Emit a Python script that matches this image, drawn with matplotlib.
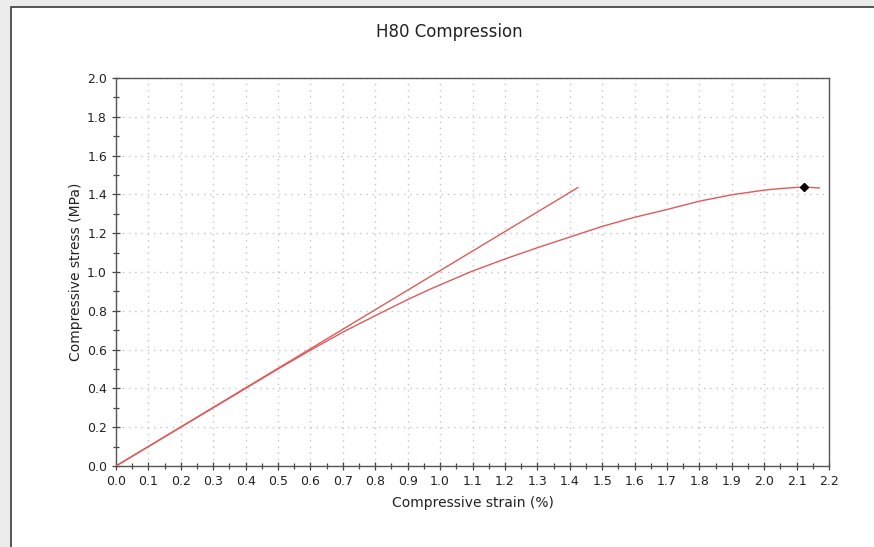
import numpy as np
import matplotlib.pyplot as plt
from matplotlib.patches import Rectangle

# measured curve (strain %, stress MPa)
strain = [0.0, 0.1, 0.2, 0.3, 0.4, 0.5, 0.6, 0.7, 0.8, 0.9, 0.97, 1.03, 1.1,
          1.2, 1.3, 1.4, 1.5, 1.6, 1.7, 1.8, 1.9, 2.0, 2.05, 2.1, 2.123, 2.17]
stress = [0.0, 0.1, 0.2, 0.3, 0.4, 0.5, 0.597, 0.69, 0.775, 0.858, 0.912, 0.955, 1.005,
          1.067, 1.125, 1.18, 1.235, 1.282, 1.322, 1.365, 1.398, 1.422, 1.43, 1.436, 1.438, 1.433]

# modulus fit line
fit_strain = [0.0, 1.425]
fit_stress = [0.0, 1.435]

# peak point
peak_strain = [2.123]
peak_stress = [1.438]

xticks = np.round(np.arange(0, 2.21, 0.1), 1)
yticks = np.round(np.arange(0, 2.01, 0.2), 1)

fig = plt.figure(figsize=(8.74, 5.47), dpi=100)
fig.patch.set_facecolor('#ebebeb')
panel = Rectangle((11 / 874, -0.05), 1.0, 1 - 7 / 547 + 0.05,
                  transform=fig.transFigure, facecolor='white',
                  edgecolor='#3a3a3a', linewidth=1.2, zorder=-10)
fig.patches.append(panel)

ax = fig.add_axes([116 / 874, 1 - 466 / 547, (829 - 116) / 874, (466 - 78) / 547])
ax.set_zorder(5)
ax.set_facecolor('white')

line_color = '#de5a5a'
ax.plot(strain, stress, color=line_color, lw=1.0, zorder=3)
ax.plot(fit_strain, fit_stress, color=line_color, lw=1.0, zorder=3)
ax.plot(peak_strain, peak_stress, marker='D', color='black', markersize=4.5,
        linestyle='none', zorder=4)

ax.set_xlim(0, 2.2)
ax.set_ylim(0, 2.0)
ax.set_xticks(xticks)
ax.set_xticklabels([f"{v:.1f}" for v in xticks])
ax.set_xticks(np.arange(0.05, 2.2, 0.1), minor=True)
ax.set_yticks(yticks)
ax.set_yticklabels([f"{v:.1f}" for v in yticks])
ax.set_yticks(np.arange(0.1, 2.0, 0.2), minor=True)

ax.tick_params(axis='both', which='both', colors='#444444', labelcolor='#222222',
               labelsize=9, direction='inout', length=6, width=0.9)
ax.tick_params(axis='both', which='minor', length=5)

ax.grid(True, which='major', color='#c4c4c4', linestyle=(0, (1, 3.5)), linewidth=1.0)

for s in ax.spines.values():
    s.set_color('#555555')
    s.set_linewidth(1.0)

ax.set_xlabel('Compressive strain (%)', fontsize=10, color='#222222', labelpad=6)
ax.set_ylabel('Compressive stress (MPa)', fontsize=10, color='#222222', labelpad=3)
fig.text(449 / 874, 1 - 32 / 547, 'H80 Compression', ha='center', va='center',
         fontsize=12, color='#222222', zorder=6)

fig.savefig('out.png', dpi=100, facecolor=fig.get_facecolor())
